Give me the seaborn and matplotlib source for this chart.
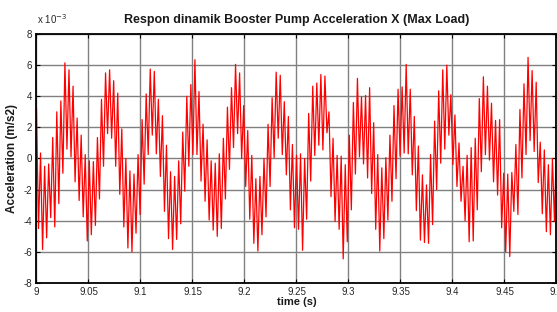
import numpy as np
import pandas as pd
import matplotlib
matplotlib.use("Agg")
import matplotlib.pyplot as plt
import seaborn as sns

sns.set_theme(style="white")
plt.rcParams['font.family'] = ['Liberation Sans', 'DejaVu Sans']

# acceleration, in units of 1e-3 m/s2
accel = [
    3.25, -4.5, 0.35, -5.85, -0.5, -5.1, -0.35, -3.8, 1.35, -4.4,
    3.0, -2.9, 3.7, -0.95, 6.15, 0.6, 5.7, 0.1, 4.65, -1.5,
    2.6, -2.7, 1.5, -3.75, 0.25, -5.3, -0.15, -4.9, -0.2, -4.3,
    1.35, -2.6, 3.8, -0.5, 5.5, 1.6, 5.7, 1.3, 5.0, -0.5,
    4.2, -2.3, 1.9, -4.4, 0.0, -5.75, -0.8, -6.0, -1.0, -4.8,
    0.25, -3.6, 2.5, -1.65, 4.15, 0.25, 5.75, 1.5, 5.6, 0.3,
    3.8, -1.15, 2.75, -3.4, 0.85, -5.15, -0.85, -5.85, -1.15, -5.2,
    -0.15, -4.2, 1.7, -2.1, 4.0, -0.5, 4.75, 0.25, 6.35, 0.25,
    4.3, -1.45, 2.2, -2.75, 1.2, -3.95, -0.15, -4.6, -0.3, -5.0,
    0.3, -4.5, 1.3, -2.6, 3.3, -0.7, 4.55, 0.7, 6.05, 1.6,
    5.5, 0.0, 3.4,
    -1.8, 1.8, -3.9, 0.2, -5.45, -1.3, -5.95, -1.15, -4.9, 0.0,
    -3.75, 2.2, -1.8, 3.9, 0.05, 5.55, 1.3, 5.35, 0.25, 3.65,
    -1.05, 2.7, -3.3, 0.9, -4.45, 0.2, -4.55, 0.3, -5.9, 0.0,
    -3.9, 2.9, -1.45, 4.65, 0.2, 4.85, 0.85, 5.4, 0.55, 5.3,
    1.65, 3.0, -2.45, 1.3, -4.05, 0.2, -4.55, 0.15, -6.45, -0.4,
    -5.35, 1.5, -3.3, 3.6, -1.0, 5.15, 0.1, 3.95, -0.35, 4.05,
    -1.25, 4.55, -2.25, 2.3, -4.55, 0.25, -5.95, -0.6, -5.15, 0.05,
    -3.95, 1.5, -2.75, 3.4, -1.3, 4.45, 0.15, 4.6, 0.35, 6.05,
    0.3, 4.45, -1.05, 2.7, -3.35, 0.8, -5.25, -1.05, -5.4, -1.7,
    -5.45, 0.25, -4.25, 2.4, -2.0, 4.35, -0.3, 5.7, 0.6, 6.0,
    1.5, 4.1,
    -0.4, 2.8, -1.8, 1.0, -2.75, -0.5, -4.0, 0.2, -5.35, 0.7,
    -5.3, 1.3, -3.3, 3.85, -0.85, 5.25, 0.25, 4.65, -0.1, 3.55,
    -1.5, 2.45, -2.35, 2.5, -4.45, -0.95, -6.0, -1.0, -6.3, -0.9,
    -3.4, 0.9, -3.6, 3.15, -1.25, 4.8, 0.25, 6.5, 1.15, 5.65,
    0.45, 4.9, -1.55, 1.05, -3.55, 0.55, -4.7, -0.4, -4.9, 0.0,
    -4.05, 1.05,
]
t_start, t_end = 9.0, 9.5
time = np.linspace(t_start, t_end, len(accel))

xticks = [9, 9.05, 9.1, 9.15, 9.2, 9.25, 9.3, 9.35, 9.4, 9.45, 9.5]
xtick_labels = ['9', '9.05', '9.1', '9.15', '9.2', '9.25', '9.3', '9.35', '9.4', '9.45', '9.5']
yticks = [-8, -6, -4, -2, 0, 2, 4, 6, 8]
ytick_labels = ['-8', '-6', '-4', '-2', '0', '2', '4', '6', '8']

df = pd.DataFrame({'time': time, 'accel': accel})

fig = plt.figure(figsize=(5.57, 3.12), dpi=100)
ax = fig.add_axes([0.0655, 0.093, 0.9336, 0.798])
ax.set_facecolor('white')

sns.lineplot(data=df, x='time', y='accel', ax=ax, color='#ff0000',
             linewidth=0.9, estimator=None, sort=False)

ax.set_xlim(t_start, t_end)
ax.set_ylim(-8, 8)
ax.set_xticks(xticks)
ax.set_xticklabels(xtick_labels)
ax.set_yticks(yticks)
ax.set_yticklabels(ytick_labels)
ax.grid(True, color='#808080', linewidth=1.0, linestyle='-')
ax.set_axisbelow(True)

ax.tick_params(direction='in', length=3, width=0.8, color='black',
               labelsize=7, labelcolor='#262626', pad=3,
               top=True, right=True, bottom=True, left=True)
for sp in ax.spines.values():
    sp.set_visible(True)
    sp.set_color('black')
    sp.set_linewidth(1.3)

ax.set_title('Respon dinamik Booster Pump Acceleration X (Max Load)',
             fontsize=9, fontweight='bold', color='#1a1a1a', pad=8)
ax.set_xlabel('time (s)', fontsize=8, fontweight='bold', color='#1a1a1a', labelpad=0)
ax.set_ylabel('Acceleration (m/s2)', fontsize=8.5, fontweight='bold', color='#1a1a1a', labelpad=4)
fig.text(37 / 557, 1 - 24 / 312, r'x 10$^{-3}$', fontsize=7, color='#262626',
         ha='left', va='baseline')

fig.savefig('out.png', dpi=100)
